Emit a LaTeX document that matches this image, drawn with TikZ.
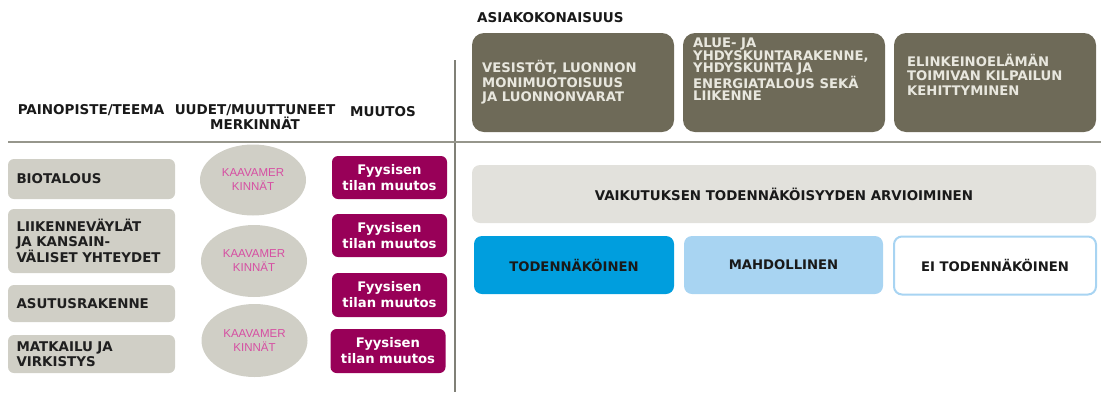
\documentclass[tikz,border=0pt]{standalone}
\usepackage{fontspec}
\setmainfont{DejaVu Sans}
\newfontfamily\arialfont{Liberation Sans}
\usetikzlibrary{shapes.geometric}
\definecolor{themegray}{RGB}{208,207,198}
\definecolor{changepurple}{RGB}{152,0,88}
\definecolor{markpink}{RGB}{214,78,162}
\definecolor{wholeolive}{RGB}{110,106,88}
\definecolor{wholetext}{RGB}{232,231,222}
\definecolor{evalgray}{RGB}{226,225,220}
\definecolor{likelyblue}{RGB}{0,158,222}
\definecolor{possibleblue}{RGB}{168,212,242}
\definecolor{linegray}{RGB}{150,150,140}
\begin{document}
\begin{tikzpicture}%
	[
	x={(1pt,0pt)},
	y={(0pt,-1pt)},
	header/.style={font=\fontsize{13.5}{15}\selectfont\bfseries, text=black!90, inner sep=0pt, align=center},
	themebox/.style={fill=themegray, rounded corners=6pt, minimum height=#1, text width=150pt, inner xsep=8.5pt, inner ysep=0pt, align=left, font=\fontsize{13.4}{15}\selectfont\bfseries, text=black!88},
	markellipse/.style={ellipse, fill=themegray, minimum width=106pt, minimum height=#1, inner sep=0pt, align=center, font=\arialfont\fontsize{11.5}{14}\selectfont, text=markpink},
	changebox/.style={fill=changepurple, rounded corners=6pt, minimum width=115pt, minimum height=#1, inner sep=0pt, align=center, font=\fontsize{13.2}{16}\selectfont\bfseries, text=white},
	wholebox/.style={fill=wholeolive, rounded corners=12pt, minimum width=202pt, minimum height=99pt, inner sep=0pt},
	wholelabel/.style={anchor=west, inner sep=0pt, align=left, font=\fontsize{13.2}{#1}\selectfont\bfseries, text=wholetext},
	evalbox/.style={fill=evalgray, rounded corners=8pt, minimum width=624pt, minimum height=58pt, inner sep=0pt, font=\fontsize{13.4}{15}\selectfont\bfseries, text=black!90},
	levelbox/.style={rounded corners=8pt, minimum width=#1, minimum height=58pt, inner sep=0pt, font=\fontsize{13.2}{15}\selectfont\bfseries, text=black!90},
	vline/.style={color=linegray!85!black, line width=1.2pt},
	hline/.style={color=linegray, line width=1.8pt}]

\useasboundingbox (0,0) rectangle (1101,392);

\coordinate (vtop) at (455,60);
\coordinate (vbottom) at (455,392);
\coordinate (hleft) at (8,142);
\coordinate (hright) at (1101,142);

\draw[vline] (vtop) -- (vbottom);
\draw[hline] (hleft) -- (hright);

\node[header] (themehead) at (91,110) {PAINOPISTE/TEEMA};
\node[header] (markhead) at (255,117.5) {UUDET/MUUTTUNEET\\MERKINNÄT};
\node[header] (changehead) at (383,112) {MUUTOS};

\node[themebox=40pt] (bio) at (91.5,179) {BIOTALOUS};
\node[themebox=64pt] (traffic) at (91.5,241) {LIIKENNEVÄYLÄT\\JA KANSAIN-\\VÄLISET YHTEYDET};
\node[themebox=37pt] (housing) at (91.5,303.5) {ASUTUSRAKENNE};
\node[themebox=38pt] (tourism) at (91.5,354) {MATKAILU JA\\VIRKISTYS};

\node[markellipse=71pt] (mark1) at (253,180) {KAAVAMER\\KINNÄT};
\node[markellipse=72pt] (mark2) at (254,261) {KAAVAMER\\KINNÄT};
\node[markellipse=73pt] (mark3) at (254.5,340.5) {KAAVAMER\\KINNÄT};

\node[changebox=43pt] (change1) at (389.5,177.5) {Fyysisen\\tilan muutos};
\node[changebox=43pt] (change2) at (389.5,235.5) {Fyysisen\\tilan muutos};
\node[changebox=44pt] (change3) at (389.5,295) {Fyysisen\\tilan muutos};
\node[changebox=44pt] (change4) at (388,351) {Fyysisen\\tilan muutos};

\node[header, anchor=west] (wholehead) at (477,18) {ASIAKOKONAISUUS};

\node[wholebox] (nature) at (573,82.5) {};
\node[wholebox] (structure) at (784,82.5) {};
\node[wholebox] (business) at (995,82.5) {};
\node[wholelabel=14.5] (naturetext) at (482,82.5) {VESISTÖT, LUONNON\\MONIMUOTOISUUS\\JA LUONNONVARAT};
\node[wholelabel=12] (structuretext) at (693,69) {ALUE- JA\\YHDYSKUNTARAKENNE,\\YHDYSKUNTA JA\\ENERGIATALOUS SEKÄ\\LIIKENNE};
\node[wholelabel=14.5] (businesstext) at (907,74.5) {ELINKEINOELÄMÄN\\TOIMIVAN KILPAILUN\\KEHITTYMINEN};

\node[evalbox] (eval) at (784,194) {VAIKUTUKSEN TODENNÄKÖISYYDEN ARVIOIMINEN};
\node[levelbox=200pt, fill=likelyblue] (likely) at (574,265) {TODENNÄKÖINEN};
\node[levelbox=199pt, fill=possibleblue] (possible) at (783.5,265) {MAHDOLLINEN};
\node[levelbox=202pt, fill=white, draw=possibleblue, line width=2pt] (unlikely) at (995,265.5) {EI TODENNÄKÖINEN};
\end{tikzpicture}
\end{document}
